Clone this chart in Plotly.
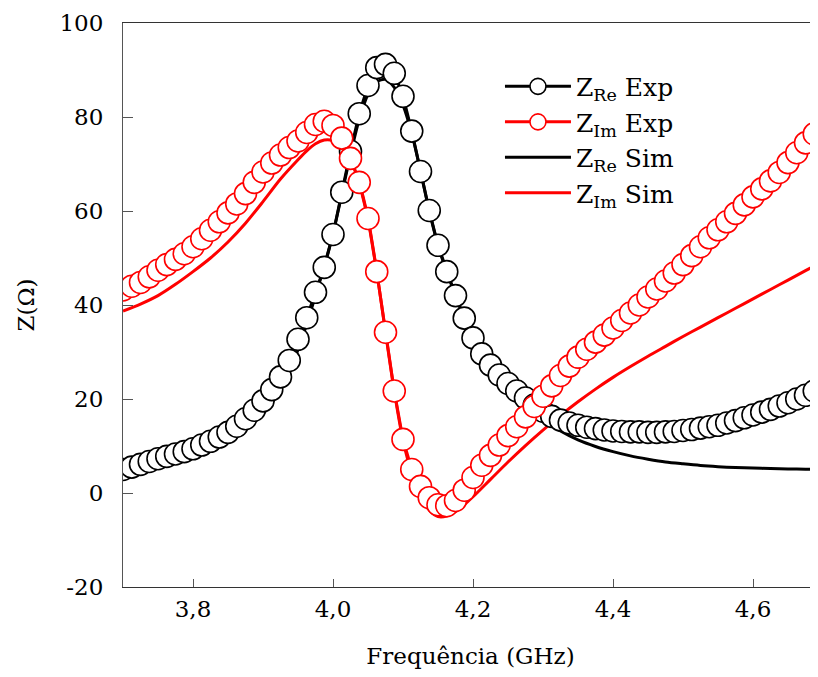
import plotly.graph_objects as go

# ---------------- data ----------------
freq_exp = [3.7000, 3.7125, 3.7250, 3.7375, 3.7500, 3.7625, 3.7750, 3.7875,
            3.8000, 3.8125, 3.8250, 3.8375, 3.8500, 3.8625, 3.8750, 3.8875,
            3.9000, 3.9125, 3.9250, 3.9375, 3.9500, 3.9625, 3.9750, 3.9875,
            4.0000, 4.0125, 4.0250, 4.0375, 4.0500, 4.0625, 4.0750, 4.0875,
            4.1000, 4.1125, 4.1250, 4.1375, 4.1500, 4.1625, 4.1750, 4.1875,
            4.2000, 4.2125, 4.2250, 4.2375, 4.2500, 4.2625, 4.2750, 4.2875,
            4.3000, 4.3125, 4.3250, 4.3375, 4.3500, 4.3625, 4.3750, 4.3875,
            4.4000, 4.4125, 4.4250, 4.4375, 4.4500, 4.4625, 4.4750, 4.4875,
            4.5000, 4.5125, 4.5250, 4.5375, 4.5500, 4.5625, 4.5750, 4.5875,
            4.6000, 4.6125, 4.6250, 4.6375, 4.6500, 4.6625, 4.6750, 4.6875,
            4.7000]

z_re_exp = [5.0, 5.5, 6.1, 6.7, 7.3, 7.8, 8.3, 8.8,
            9.4, 10.2, 11.0, 11.9, 12.9, 14.2, 15.8, 17.6,
            19.6, 22.0, 24.7, 28.2, 32.7, 37.3, 42.7, 48.0,
            55.0, 64.0, 72.7, 80.7, 86.7, 90.5, 91.2, 89.3,
            84.4, 77.0, 68.4, 60.1, 52.7, 47.1, 42.0, 37.2,
            33.0, 29.6, 27.2, 25.1, 23.3, 21.7, 20.2, 18.7,
            17.4, 16.3, 15.5, 14.9, 14.4, 14.0, 13.7, 13.4,
            13.2, 13.1, 13.0, 13.0, 12.9, 12.9, 13.0, 13.1,
            13.3, 13.5, 13.8, 14.1, 14.4, 14.9, 15.4, 16.0,
            16.6, 17.2, 17.8, 18.5, 19.2, 20.0, 20.8, 21.7,
            22.6]

z_im_exp = [43.2, 44.0, 44.8, 46.0, 47.4, 48.6, 49.7, 50.9,
            52.4, 54.1, 55.9, 57.7, 59.6, 61.5, 63.7, 66.1,
            68.3, 70.2, 71.9, 73.5, 74.9, 76.7, 78.4, 79.1,
            78.2, 75.5, 71.2, 66.1, 58.4, 47.1, 34.2, 21.7,
            11.4, 5.0, 1.4, -1.0, -2.5, -2.7, -1.6, 0.6,
            3.3, 5.9, 8.0, 10.2, 12.2, 14.1, 16.2, 18.4,
            20.6, 22.8, 25.0, 27.0, 28.9, 30.6, 32.1, 33.6,
            35.1, 36.7, 38.3, 40.0, 41.7, 43.4, 45.1, 46.8,
            48.6, 50.5, 52.4, 54.3, 56.0, 57.7, 59.5, 61.3,
            63.0, 64.7, 66.4, 68.2, 70.3, 72.4, 74.5, 76.4,
            78.2]

freq_sim = [3.700, 3.725, 3.750, 3.775, 3.800, 3.825, 3.850, 3.875,
            3.900, 3.925, 3.950, 3.9625, 3.975, 3.9875, 4.000, 4.0125,
            4.025, 4.0375, 4.050, 4.0625, 4.075, 4.0875, 4.100, 4.1125,
            4.125, 4.1375, 4.150, 4.1625, 4.175, 4.1875, 4.200, 4.225,
            4.250, 4.275, 4.300, 4.325, 4.350, 4.375, 4.400, 4.425,
            4.450, 4.475, 4.500, 4.525, 4.550, 4.575, 4.600, 4.625,
            4.650, 4.675, 4.700]

z_re_sim = [4.6, 5.2, 5.9, 6.7, 7.7, 9.1, 11.0, 13.5,
            16.8, 22.0, 30.5, 36.0, 42.0, 48.3, 55.2, 63.5,
            72.0, 79.5, 84.8, 87.5, 88.0, 86.3, 82.5, 76.5,
            68.5, 60.0, 52.7, 47.0, 42.0, 37.2, 33.0, 26.8,
            22.4, 18.7, 15.6, 13.2, 11.3, 9.9, 8.8, 7.9,
            7.2, 6.6, 6.2, 5.85, 5.6, 5.42, 5.3, 5.2,
            5.12, 5.06, 5.0]

z_im_sim = [38.7, 40.2, 42.0, 44.4, 47.1, 50.0, 53.4, 57.4,
            62.0, 66.8, 70.9, 72.8, 74.3, 75.1, 75.0, 74.0,
            71.0, 66.0, 58.4, 47.1, 34.2, 21.7, 11.2, 4.3,
            -0.3, -3.6, -5.0, -4.9, -4.0, -2.5, -0.8, 2.9,
            6.6, 10.1, 13.4, 16.5, 19.4, 22.1, 24.6, 26.9,
            29.1, 31.2, 33.3, 35.3, 37.3, 39.3, 41.3, 43.3,
            45.3, 47.3, 49.3]

x_tick_vals = [3.8, 4.0, 4.2, 4.4, 4.6]
x_tick_text = ["3,8", "4,0", "4,2", "4,4", "4,6"]
y_tick_vals = [-20, 0, 20, 40, 60, 80, 100]
y_tick_text = ["-20", "0", "20", "40", "60", "80", "100"]

# ---------------- figure ----------------
FONT = "DejaVu Serif"
fig = go.Figure()

fig.add_trace(go.Scatter(
    x=freq_sim, y=z_re_sim, mode="lines", name="Z<sub>Re</sub> Sim",
    line=dict(color="black", width=3, shape="spline", smoothing=0.8),
    legendrank=3))
fig.add_trace(go.Scatter(
    x=freq_sim, y=z_im_sim, mode="lines", name="Z<sub>Im</sub> Sim",
    line=dict(color="red", width=3, shape="spline", smoothing=0.8),
    legendrank=4))
fig.add_trace(go.Scatter(
    x=freq_exp, y=z_re_exp, mode="lines+markers", name="Z<sub>Re</sub> Exp",
    line=dict(color="black", width=3),
    marker=dict(symbol="circle", size=22, color="white",
                line=dict(color="black", width=1.6)),
    legendrank=1))
fig.add_trace(go.Scatter(
    x=freq_exp, y=z_im_exp, mode="lines+markers", name="Z<sub>Im</sub> Exp",
    line=dict(color="red", width=3),
    marker=dict(symbol="circle", size=22, color="white",
                line=dict(color="red", width=1.6)),
    legendrank=2))

fig.update_layout(
    width=810, height=661,
    margin=dict(l=115, r=0, t=15, b=82),
    paper_bgcolor="white", plot_bgcolor="white",
    font=dict(family=FONT, size=23, color="black"),
    showlegend=True,
    legend=dict(x=0.5424, y=0.928, xanchor="left", yanchor="top",
                bgcolor="rgba(0,0,0,0)", borderwidth=0,
                font=dict(family=FONT, size=25, color="black"),
                itemwidth=66, tracegroupgap=0),
)

fig.update_xaxes(
    range=[3.7, 4.69286], showgrid=False, zeroline=False, automargin=False,
    showline=True, linecolor="#333333", linewidth=1, mirror=True,
    ticks="inside", ticklen=8, tickwidth=1, tickcolor="#555555",
    tickvals=x_tick_vals, ticktext=x_tick_text,
    tickfont=dict(family=FONT, size=23),
    ticklabelstandoff=1,
    title=dict(text="Frequência (GHz)", standoff=28,
               font=dict(family=FONT, size=23)))
fig.update_yaxes(
    range=[-20, 100], showgrid=False, zeroline=False, automargin=False,
    showline=True, linecolor="#555555", linewidth=1, mirror=False,
    ticks="inside", ticklen=10, tickwidth=1, tickcolor="#555555",
    tickvals=y_tick_vals, ticktext=y_tick_text,
    tickfont=dict(family=FONT, size=23),
    ticklabelstandoff=14,
    title=dict(text="Z(Ω)", standoff=18,
               font=dict(family=FONT, size=23)))

fig.write_html("out.html")
